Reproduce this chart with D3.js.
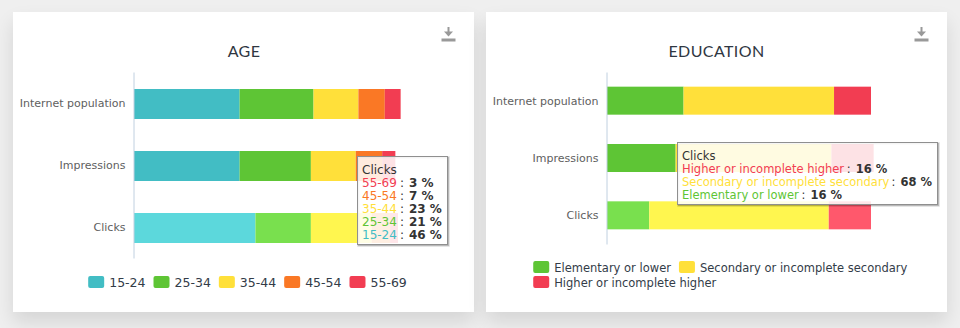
<!DOCTYPE html>
<html>
<head>
<meta charset="utf-8">
<script src="https://cdn.jsdelivr.net/npm/d3@7/dist/d3.min.js"></script>
<style>
  html, body { margin: 0; padding: 0; }
  body { width: 960px; height: 328px; overflow: hidden; background: #efefef; position: relative; }
  .card { position: absolute; top: 12px; width: 461px; height: 300px; background: #fff;
          box-shadow: 0 10px 18px rgba(0,0,0,0.11); }
  #chart { position: absolute; left: 0; top: 0; }
  text { font-family: "DejaVu Sans", sans-serif; }
</style>
</head>
<body>
<div class="card" style="left:13px"></div>
<div class="card" style="left:486px"></div>
<svg id="chart" width="960" height="328"></svg>
<script>
// ---------------- DATA ----------------
const categories = ["Internet population", "Impressions", "Clicks"];
const hoverCategory = "Clicks";

const ageTitle = "AGE";
const ageSeries = ["15-24", "25-34", "35-44", "45-54", "55-69"];
const age15to24 = [40, 40, 46];
const age25to34 = [28, 27, 21];
const age35to44 = [17, 17, 23];
const age45to54 = [10, 10, 7];
const age55to69 = [6, 5, 3];
const ageColors = ["#42BDC4", "#5EC535", "#FFE03A", "#FA7825", "#F23D52"];
const ageHoverColors = ["#5CD8DC", "#79E04E", "#FFF64F", "#FF9340", "#FF586C"];

const eduTitle = "EDUCATION";
const eduSeries = ["Elementary or lower", "Secondary or incomplete secondary", "Higher or incomplete higher"];
const eduElementary = [29, 26, 16];
const eduSecondary = [57, 59, 68];
const eduHigher = [14, 16, 16];
const eduColors = ["#5EC535", "#FFE03A", "#F23D52"];
const eduHoverColors = ["#79E04E", "#FFF64F", "#FF586C"];

const xDomain = [0, 100];

// ---------------- DRAW ----------------
const svg = d3.select("#chart");

function drawChart(cfg) {
  const g = svg.append("g");
  const values = cfg.values;
  const rows = categories.map((c, i) => {
    const r = { cat: c };
    cfg.series.forEach((s, j) => r[s] = values[j][i]);
    return r;
  });
  const stack = d3.stack().keys(cfg.series)(rows);

  const x = d3.scaleLinear().domain(xDomain).range([cfg.x0, cfg.x1]);
  const y = d3.scaleBand().domain(categories).range([cfg.yTop, cfg.yBot]).padding(0);
  const bh = cfg.barH;

  // title
  g.append("text").attr("x", cfg.cx).attr("y", 57).attr("text-anchor", "middle")
    .attr("font-size", "16px").attr("fill", "#2f3742").style("font-family", "Lato, 'DejaVu Sans', sans-serif")
    .style("letter-spacing", "0.4px")
    .text(cfg.title);

  // download icon
  const ic = g.append("g").attr("transform", `translate(${cfg.iconX},0)`).attr("fill", "#999");
  ic.append("rect").attr("x", -1).attr("y", 27).attr("width", 2).attr("height", 6);
  ic.append("path").attr("d", "M-4.5,31.5 L4.5,31.5 L0,36.5 Z");
  ic.append("rect").attr("x", -7).attr("y", 38.5).attr("width", 14).attr("height", 3);

  // bars
  stack.forEach((layer, j) => {
    g.append("g").selectAll("rect").data(layer).join("rect")
      .attr("x", d => x(d[0]))
      .attr("width", d => x(d[1]) - x(d[0]))
      .attr("y", d => y(d.data.cat) + (y.bandwidth() - bh) / 2 + cfg.barOff)
      .attr("height", bh)
      .attr("fill", d => d.data.cat === hoverCategory ? cfg.hoverColors[j] : cfg.colors[j]);
  });

  // axis
  const ax = g.append("g").attr("transform", `translate(${cfg.x0 - 0.5},0)`)
    .call(d3.axisLeft(y).tickSize(0).tickSizeOuter(0).tickPadding(8));
  ax.select(".domain").attr("stroke", "#C0D0E0").attr("stroke-width", 1);
  ax.selectAll(".tick text").attr("font-size", "11px").attr("fill", "#606060")
    .style("font-family", "'DejaVu Sans', sans-serif").attr("dy", "0.36em");

  // legend
  const lg = g.append("g");
  const items = [];
  let cx = 0, row = 0;
  cfg.series.forEach((s, j) => {
    const it = lg.append("g");
    it.append("rect").attr("width", 16).attr("height", 12).attr("rx", 2).attr("fill", cfg.colors[j]);
    const t = it.append("text").attr("x", 21).attr("y", 11).attr("font-size", cfg.legendFont)
      .attr("fill", "#333c48").text(s);
    const w = 21 + t.node().getComputedTextLength();
    if (cx > 0 && cx + w > cfg.legendMax) { cx = 0; row++; }
    items.push({ it, x: cx, row, w });
    cx += w + 8;
  });
  const totalW = d3.max(d3.rollups(items, v => d3.max(v, d => d.x + d.w), d => d.row), d => d[1]);
  const lx = cfg.legendCx - totalW / 2;
  items.forEach(d => d.it.attr("transform", `translate(${lx + d.x},${cfg.legendY + d.row * 15})`));

  // tooltip (hover on Clicks)
  const ci = categories.indexOf(hoverCategory);
  const tt = g.append("g").attr("transform", `translate(${cfg.ttX},${cfg.ttY})`);
  const shadow = tt.append("g");
  const box = tt.append("rect").attr("fill", "rgba(255,255,255,0.85)")
    .attr("stroke", "#8f8f8f").attr("stroke-width", 1);
  const txt = tt.append("g");
  txt.append("text").attr("x", 5).attr("y", 17.7).attr("font-size", cfg.ttFont).attr("fill", "#333")
    .text(hoverCategory);
  const order = cfg.series.map((s, j) => j).reverse();
  order.forEach((j, k) => {
    const t = txt.append("text").attr("x", 5).attr("y", 17.7 + 13 * (k + 1)).attr("font-size", cfg.ttFont);
    t.append("tspan").attr("fill", cfg.colors[j]).text(cfg.series[j]);
    t.append("tspan").attr("fill", "#333").attr("dx", 3).text(":");
    t.append("tspan").attr("fill", "#333").attr("dx", 5).attr("font-weight", "bold")
      .text(values[j][ci] + " %");
  });
  const bb = txt.node().getBBox();
  const bw = Math.round(bb.width + 10), bht = Math.round(17.7 + 13 * order.length + 5);
  box.attr("x", 0.5).attr("y", 0.5).attr("width", bw).attr("height", bht);
  [3, 2, 1].forEach((o, i) => {
    shadow.append("rect").attr("x", 0.5 + 1).attr("y", 0.5 + 1).attr("width", bw).attr("height", bht)
      .attr("fill", "none").attr("stroke", "rgba(0,0,0," + (0.05 * (i + 1)) + ")").attr("stroke-width", o);
  });
}

drawChart({
  title: ageTitle, series: ageSeries,
  values: [age15to24, age25to34, age35to44, age45to54, age55to69],
  colors: ageColors, hoverColors: ageHoverColors,
  x0: 134, x1: 398, yTop: 72, yBot: 258, barH: 30, barOff: 1,
  cx: 244, iconX: 448.5, legendCx: 247.5, legendY: 276, legendMax: 440, legendFont: "12.5px",
  ttX: 357, ttY: 156, ttFont: "12px"
});

drawChart({
  title: eduTitle, series: eduSeries,
  values: [eduElementary, eduSecondary, eduHigher],
  colors: eduColors, hoverColors: eduHoverColors,
  x0: 607, x1: 871, yTop: 72, yBot: 244, barH: 28, barOff: 0,
  cx: 716.5, iconX: 921.5, legendCx: 720.3, legendY: 261, legendMax: 400, legendFont: "11.5px",
  ttX: 677, ttY: 142, ttFont: "11.5px"
});
</script>
</body>
</html>
